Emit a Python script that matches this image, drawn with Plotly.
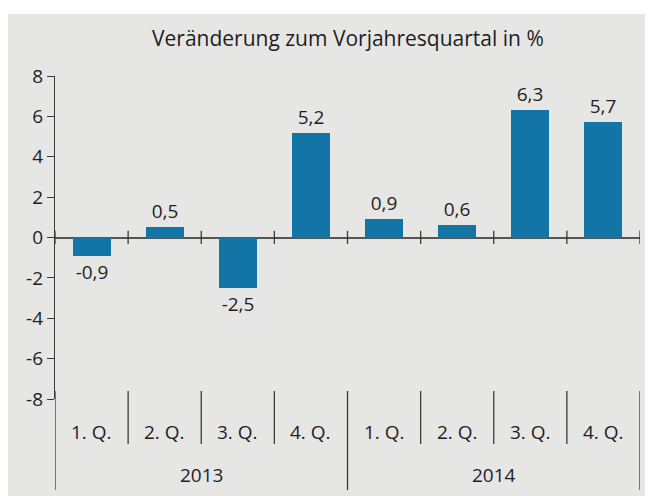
import plotly.graph_objects as go

years = ["2013", "2014"]
quarters = ["1. Q.", "2. Q.", "3. Q.", "4. Q."]
values = [-0.9, 0.5, -2.5, 5.2, 0.9, 0.6, 6.3, 5.7]
y_ticks = [-8, -6, -4, -2, 0, 2, 4, 6, 8]
title_text = "Veränderung zum Vorjahresquartal in %"

FONT = "Open Sans"
TXT = "#1e1e1e"
BAR = "#1375a6"
BG = "#e6e6e5"
LINE = "#3a3a3a"

OFF = 8  # page body margin
W, H = 645, 488
L, R, T, B = 47, 13, 68, 97
PW, PH = W - L - R, H - T - B


def px_x(p):  # page pixel -> paper x
    return (p - OFF - L) / PW


def px_y(p):  # page pixel -> paper y
    return (H - B - (p - OFF)) / PH


n = len(values)
xs = list(range(n))
labels = [f"{v:.1f}".replace(".", ",") for v in values]

fig = go.Figure()
fig.add_trace(go.Bar(
    x=xs, y=values, width=0.52,
    marker=dict(color=BAR, line=dict(width=0)),
    text=labels, textposition="outside", cliponaxis=False,
    textfont=dict(family=FONT, size=19, color=TXT),
    hoverinfo="skip",
))

shapes = []
# gray panel
shapes.append(dict(type="rect", xref="paper", yref="paper",
                   x0=px_x(OFF), x1=px_x(OFF + W + 2), y0=px_y(OFF + H + 2), y1=px_y(14),
                   fillcolor=BG, line=dict(width=0), layer="below"))
# ticks crossing zero line at category boundaries
for i in range(n + 1):
    shapes.append(dict(type="line", xref="x", yref="y",
                       x0=i - 0.5, x1=i - 0.5, y0=-0.32, y1=0.33,
                       line=dict(color=LINE, width=1.3)))
# category separators below plot
nq = len(quarters)
for i in range(n + 1):
    is_year = (i % nq == 0)
    shapes.append(dict(type="line", xref="x", yref="paper",
                       x0=i - 0.5, x1=i - 0.5,
                       y0=px_y(391), y1=px_y(490 if is_year else 444),
                       line=dict(color=LINE, width=1.3)))

annotations = []
for i in range(n):
    annotations.append(dict(x=i, y=px_y(432), xref="x", yref="paper",
                            text=quarters[i % nq], showarrow=False,
                            font=dict(family=FONT, size=19, color=TXT),
                            xanchor="center", yanchor="middle"))
for j, yr in enumerate(years):
    annotations.append(dict(x=j * nq + (nq - 1) / 2, y=px_y(475), xref="x", yref="paper",
                            text=yr, showarrow=False,
                            font=dict(family=FONT, size=19, color=TXT),
                            xanchor="center", yanchor="middle"))
annotations.append(dict(x=0.5, y=px_y(38), xref="paper", yref="paper",
                        text=title_text, showarrow=False,
                        font=dict(family=FONT, size=21, color=TXT),
                        xanchor="center", yanchor="middle"))

fig.update_layout(
    width=W, height=H,
    margin=dict(l=L, r=R, t=T, b=B, pad=0),
    paper_bgcolor="white", plot_bgcolor="rgba(0,0,0,0)",
    showlegend=False,
    shapes=shapes, annotations=annotations,
    bargap=0,
    xaxis=dict(range=[-0.5, n - 0.5], showticklabels=False, showgrid=False,
               zeroline=False, showline=False, ticks="", fixedrange=True),
    yaxis=dict(range=[-8, 8], tickvals=y_ticks, ticktext=[str(v) for v in y_ticks],
               showgrid=False, showline=True, linecolor=LINE, linewidth=1.3,
               ticks="outside", ticklen=7, tickwidth=1.3, tickcolor=LINE,
               tickfont=dict(family=FONT, size=19, color=TXT),
               zeroline=True, zerolinecolor="#555555", zerolinewidth=1.6,
               fixedrange=True),
)

fig.write_html("out.html")
